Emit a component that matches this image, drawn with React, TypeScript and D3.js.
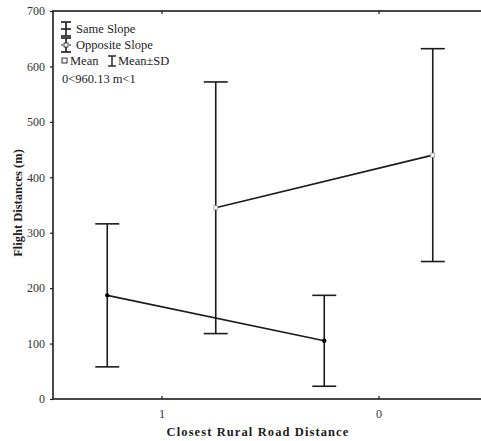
import * as d3 from 'd3';
import { useEffect, useRef } from 'react';

// x categories (road distance class) and the two slope groups
const categories = [1, 0];
const sameMean = [187, 105];
const sameSD = [129, 82];
const oppMean = [345, 440];
const oppSD = [227, 192];
const yTicks = [0, 100, 200, 300, 400, 500, 600, 700];

const W = 481;
const H = 441;
const FAMILY = 'Liberation Serif, Times New Roman, serif';

function App() {
  const svgRef = useRef<SVGSVGElement>(null);

  useEffect(() => {
    const svg = d3.select(svgRef.current);
    svg.selectAll('*').remove();

    const left = 53, right = 487, top = 11, bottom = 399;
    const x = d3.scaleLinear().domain([1.5, -0.5]).range([left, right]);
    const y = d3.scaleLinear().domain([0, 700]).range([bottom, top]);
    const ink = '#1c1c1c';

    const txt = (sel: any, size: number, bold = false) =>
      sel.style('font-family', FAMILY).style('font-size', size + 'px')
        .style('font-weight', bold ? 'bold' : 'normal').attr('fill', ink);

    // frame
    svg.append('rect')
      .attr('x', left).attr('y', top)
      .attr('width', right - left).attr('height', bottom - top)
      .attr('fill', 'none').attr('stroke', ink).attr('stroke-width', 1.6);

    // y axis ticks + labels
    const yAxis = d3.axisLeft(y).tickValues(yTicks).tickSize(3).tickPadding(5);
    const gy = svg.append('g').attr('transform', `translate(${left},0)`).call(yAxis);
    gy.select('.domain').remove();
    gy.selectAll('line').attr('stroke', ink).attr('stroke-width', 1.2);
    txt(gy.selectAll('text'), 12).attr('fill', '#333');

    // x ticks (inside, bottom and top)
    const xAxis = d3.axisBottom(x).tickValues(categories).tickSize(-3).tickPadding(10)
      .tickFormat(d3.format('d'));
    const gx = svg.append('g').attr('transform', `translate(0,${bottom})`).call(xAxis);
    gx.select('.domain').remove();
    gx.selectAll('line').attr('stroke', ink).attr('stroke-width', 1.2);
    txt(gx.selectAll('text'), 12).attr('fill', '#333');
    svg.append('g').attr('transform', `translate(0,${top})`)
      .call(d3.axisTop(x).tickValues(categories).tickSize(-3).tickFormat(() => ''))
      .call(g => g.select('.domain').remove())
      .selectAll('line').attr('stroke', ink).attr('stroke-width', 1.2);

    // axis titles
    txt(svg.append('text')
      .attr('x', 258).attr('y', 436)
      .attr('text-anchor', 'middle')
      .style('letter-spacing', '1.1px'), 12.5, true)
      .text('Closest Rural Road Distance');
    txt(svg.append('text')
      .attr('transform', 'translate(22,203) rotate(-90)')
      .attr('text-anchor', 'middle'), 12.5, true)
      .text('Flight Distances (m)');

    const series = [
      { mean: sameMean, sd: sameSD, off: 0.25, marker: 'dot' },
      { mean: oppMean, sd: oppSD, off: -0.25, marker: 'square' },
    ];
    const cap = 12;

    series.forEach(s => {
      const pts = categories.map((c, i) => ({ cx: x(c + s.off), m: s.mean[i], sd: s.sd[i] }));
      // error bars
      pts.forEach(p => {
        svg.append('line')
          .attr('x1', p.cx).attr('x2', p.cx)
          .attr('y1', y(p.m + p.sd)).attr('y2', y(p.m - p.sd))
          .attr('stroke', ink).attr('stroke-width', 1.6);
        [p.m + p.sd, p.m - p.sd].forEach(v => {
          svg.append('line')
            .attr('x1', p.cx - cap).attr('x2', p.cx + cap)
            .attr('y1', y(v)).attr('y2', y(v))
            .attr('stroke', ink).attr('stroke-width', 1.6);
        });
      });
      // mean line
      const line = d3.line<{ cx: number; m: number }>().x(d => d.cx).y(d => y(d.m));
      svg.append('path').attr('d', line(pts))
        .attr('fill', 'none').attr('stroke', ink).attr('stroke-width', 1.6);
      // markers
      pts.forEach(p => {
        if (s.marker === 'dot') {
          svg.append('circle').attr('cx', p.cx).attr('cy', y(p.m)).attr('r', 2.2).attr('fill', '#000');
        } else {
          svg.append('rect').attr('x', p.cx - 2).attr('y', y(p.m) - 2)
            .attr('width', 4).attr('height', 4)
            .attr('fill', '#fff').attr('stroke', '#999').attr('stroke-width', 0.8);
        }
      });
    });

    // legend
    const lg = svg.append('g');
    const ix = 66;
    // same slope icon
    lg.append('line').attr('x1', ix).attr('x2', ix).attr('y1', 22).attr('y2', 36).attr('stroke', ink).attr('stroke-width', 1.6);
    [22, 29, 36].forEach(yy => lg.append('line').attr('x1', ix - 5).attr('x2', ix + 5).attr('y1', yy).attr('y2', yy).attr('stroke', ink).attr('stroke-width', 1.6));
    txt(lg.append('text').attr('x', 76).attr('y', 33), 12.5).text('Same Slope');
    // opposite slope icon
    lg.append('line').attr('x1', ix).attr('x2', ix).attr('y1', 38).attr('y2', 52).attr('stroke', ink).attr('stroke-width', 1.6);
    [38, 52].forEach(yy => lg.append('line').attr('x1', ix - 5).attr('x2', ix + 5).attr('y1', yy).attr('y2', yy).attr('stroke', ink).attr('stroke-width', 1.6));
    lg.append('line').attr('x1', ix - 5).attr('x2', ix + 5).attr('y1', 45).attr('y2', 45).attr('stroke', ink).attr('stroke-width', 1.2).attr('stroke-dasharray', '2,2');
    lg.append('rect').attr('x', ix - 2).attr('y', 43).attr('width', 4).attr('height', 4).attr('fill', '#fff').attr('stroke', ink).attr('stroke-width', 0.8);
    txt(lg.append('text').attr('x', 76).attr('y', 49), 12.5).text('Opposite Slope');
    // mean / sd row
    lg.append('rect').attr('x', 62).attr('y', 58).attr('width', 5).attr('height', 5).attr('fill', '#fff').attr('stroke', ink).attr('stroke-width', 0.9);
    txt(lg.append('text').attr('x', 70).attr('y', 65), 12.5).text('Mean');
    const sx = 112;
    lg.append('line').attr('x1', sx).attr('x2', sx).attr('y1', 56).attr('y2', 66).attr('stroke', ink).attr('stroke-width', 1.4);
    [56, 66].forEach(yy => lg.append('line').attr('x1', sx - 4).attr('x2', sx + 4).attr('y1', yy).attr('y2', yy).attr('stroke', ink).attr('stroke-width', 1.4));
    txt(lg.append('text').attr('x', 118).attr('y', 65), 12.5).text('Mean±SD');
    txt(lg.append('text').attr('x', 62).attr('y', 83), 12.5).text('0<960.13 m<1');
  }, []);

  return (
    <svg
      ref={svgRef}
      width={W}
      height={H}
      style={{ position: 'absolute', left: 0, top: 0, background: '#fff' }}
    />
  );
}

export default App;
